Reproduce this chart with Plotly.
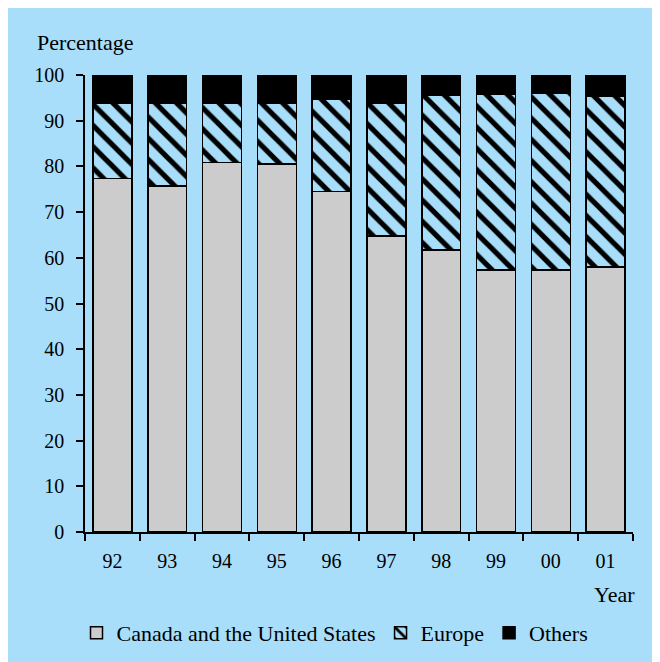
import plotly.graph_objects as go

years = ["92", "93", "94", "95", "96", "97", "98", "99", "00", "01"]
canada_us = [77.4, 75.7, 80.8, 80.5, 74.5, 64.8, 61.7, 57.3, 57.3, 58.0]
europe = [16.5, 18.2, 13.1, 13.4, 20.2, 29.1, 33.8, 38.4, 38.7, 37.4]
others = [6.1, 6.1, 6.1, 6.1, 5.3, 6.1, 4.5, 4.3, 4.0, 4.6]

BG = "#A8DEF9"
FONT = "Liberation Serif, Times New Roman, serif"

fig = go.Figure()
fig.add_bar(x=years, y=canada_us, name="Canada and the United States",
            marker=dict(color="#CCCCCC", line=dict(color="black", width=1.5)))
fig.add_bar(x=years, y=europe, name="Europe",
            marker=dict(color=BG, line=dict(color="black", width=1.5),
                        pattern=dict(shape="\\", size=15, solidity=0.35, fgopacity=1,
                                     fgcolor="black", bgcolor=BG, fillmode="replace")))
fig.add_bar(x=years, y=others, name="Others",
            marker=dict(color="black", line=dict(color="black", width=1.5)))

OFF = 8  # page body offset
W, H = 660, 662
L = 85 - OFF
T = 75 - OFF
R = W - (633 - OFF)
B = H - (532 - OFF)
pw, ph = W - L - R, H - T - B

def px(x):
    return (x - OFF - L) / pw

def py(y):
    return (H - B - (y - OFF)) / ph

fig.update_layout(
    width=W, height=H,
    margin=dict(l=L, r=R, t=T, b=B),
    barmode="stack", bargap=0.29,
    paper_bgcolor=BG, plot_bgcolor=BG,
    font=dict(family=FONT, size=20, color="black"),
    showlegend=True,
    legend=dict(orientation="h", x=px(335), xanchor="center", y=py(633), yanchor="middle",
                bgcolor="rgba(0,0,0,0)", font=dict(size=22), traceorder="normal"),
    annotations=[
        dict(text="Percentage", xref="paper", yref="paper", x=px(35), y=py(43),
             xanchor="left", yanchor="middle", showarrow=False, font=dict(size=22)),
        dict(text="Year", xref="paper", yref="paper", x=px(637), y=py(594),
             xanchor="right", yanchor="middle", showarrow=False, font=dict(size=22)),
    ],
)
fig.update_yaxes(range=[0, 100], dtick=10, showgrid=False, zeroline=False,
                 showline=True, linecolor="black", linewidth=1.5,
                 ticks="outside", ticklen=7, tickwidth=1.5, tickcolor="black",
                 ticklabelstandoff=8, fixedrange=True)
fig.update_xaxes(type="category", showgrid=False, showline=True, linecolor="black",
                 linewidth=1.5, ticks="outside", tickson="boundaries", ticklen=7,
                 tickwidth=1.5, tickcolor="black", ticklabelstandoff=10, fixedrange=True)

fig.write_html("out.html")
